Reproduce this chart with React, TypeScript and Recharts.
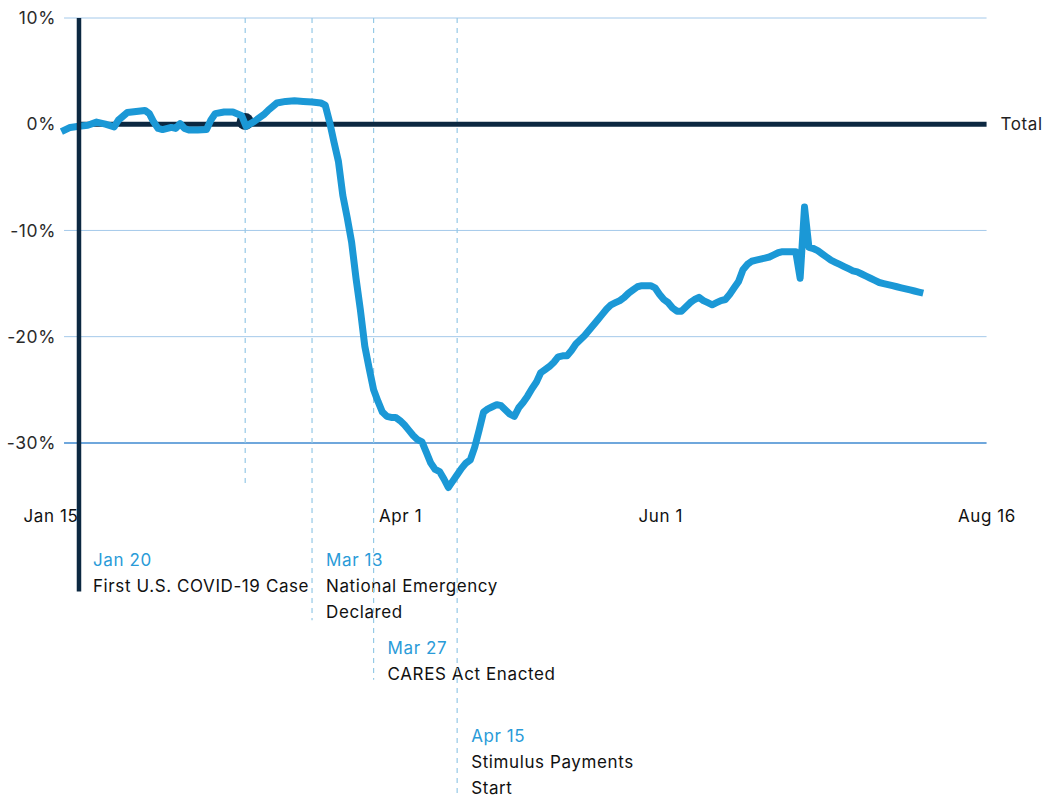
import { LineChart, Line, XAxis, YAxis, ReferenceLine, ReferenceDot } from 'recharts'

// days counted from Jan 15, 2020
const DAYS = [
  1, 3, 5, 7, 9, 11, 13, 14, 16, 18, 20, 21, 22, 23, 24, 26, 27, 28, 29, 30,
  32, 34, 35, 36, 38, 40, 42, 43, 45, 47, 48, 50, 52, 54, 56, 58, 60, 61, 62, 63,
  64, 65, 66, 67, 68, 69, 70, 71, 72, 73, 74, 75, 76, 77, 78, 79, 80, 81, 82, 83,
  84, 85, 86, 87, 88, 89, 90, 91, 92, 93, 94, 95, 96, 97, 98, 99, 100, 101, 102, 103,
  104, 105, 106, 107, 108, 109, 110, 111, 112, 113, 114, 115, 116, 117, 118, 119, 120, 121, 122, 123,
  124, 125, 126, 127, 128, 129, 130, 131, 132, 133, 134, 135, 136, 137, 138, 139, 140, 141, 142, 143,
  144, 145, 146, 147, 148, 149, 150, 151, 152, 153, 154, 155, 156, 157, 158, 159, 160, 161, 162, 163,
  164, 165, 166, 167, 168, 169, 170, 171, 172, 173, 174, 175, 176, 177, 178, 179, 180, 181, 182, 183,
  184, 185, 186, 187, 188, 189, 190, 191, 192, 193, 194, 195, 196, 197,
]
// % change in spending vs. baseline
const CHANGE = [
  -0.7, -0.3, -0.2, -0.1, 0.2, 0.0, -0.25, 0.4, 1.1, 1.2, 1.3, 1.0, 0.2, -0.4, -0.5, -0.3, -0.4, 0.05, -0.4, -0.55,
  -0.55, -0.5, 0.4, 1.0, 1.15, 1.15, 0.8, -0.2, 0.3, 0.9, 1.3, 2.0, 2.15, 2.2, 2.15, 2.1, 2.0, 1.8, 0.2, -1.7,
  -3.5, -6.7, -8.8, -11.1, -14.5, -17.5, -20.9, -23.0, -25.0, -26.1, -27.1, -27.5, -27.6, -27.6, -27.9, -28.3, -28.8, -29.3, -29.7, -29.9,
  -30.9, -31.9, -32.5, -32.7, -33.4, -34.2, -33.6, -33.0, -32.4, -31.9, -31.6, -30.4, -28.8, -27.1, -26.8, -26.6, -26.4, -26.5, -26.9, -27.3,
  -27.5, -26.7, -26.2, -25.6, -24.9, -24.3, -23.4, -23.1, -22.8, -22.4, -21.9, -21.8, -21.8, -21.3, -20.7, -20.3, -19.9, -19.4, -18.9, -18.4,
  -17.9, -17.4, -17.0, -16.8, -16.6, -16.3, -15.9, -15.6, -15.3, -15.2, -15.2, -15.2, -15.4, -16.0, -16.5, -16.8, -17.3, -17.6, -17.6, -17.2,
  -16.8, -16.5, -16.3, -16.6, -16.8, -17.0, -16.8, -16.6, -16.5, -16.0, -15.4, -14.8, -13.7, -13.2, -12.9, -12.8, -12.7, -12.6, -12.5, -12.3,
  -12.1, -12.0, -12.0, -12.0, -12.0, -14.5, -7.8, -11.6, -11.7, -11.9, -12.2, -12.5, -12.8, -13.0, -13.2, -13.4, -13.6, -13.8, -13.9, -14.1,
  -14.3, -14.5, -14.7, -14.9, -15.0, -15.1, -15.2, -15.3, -15.4, -15.5, -15.6, -15.7, -15.8, -15.9,
]

const Y_TICKS = [10, 0, -10, -20, -30]
const X_TICKS = [0, 77, 138, 214]
const X_TICK_LABELS = ['Jan 15', 'Apr 1', 'Jun 1', 'Aug 16']

const EVENT_DAYS = [5, 58, 72, 91]
const EVENT_DATES = ['Jan 20', 'Mar 13', 'Mar 27', 'Apr 15']
const EVENT_TEXT = [
  ['First U.S. COVID-19 Case'],
  ['National Emergency', 'Declared'],
  ['CARES Act Enacted'],
  ['Stimulus Payments', 'Start'],
]
const MARKER_DAY = 42.8 // unlabeled dashed line

const data = DAYS.map((day, i) => ({ day, change: CHANGE[i] }))

const FONT = 'Inter, "Noto Sans", sans-serif'
const NAVY = '#0c2841'
const BLUE = '#1b98d6'
const GRID = '#a4c9ea'
const DASH = '#95c9e6'
const LS = 0.6

// layout bits (not data)
const GRID_FROM = 1.6
const GRID_TO = 211.4
const EVENT_LINE_END = [-44, -46.7, -52.3, -63.6]
const EVENT_TEXT_Y = [566, 566, 654, 742]
const X_TICK_NUDGE = [-6, 5, -3, -11]

const XTick = (props: any) => {
  const { x, y, payload } = props
  const i = X_TICKS.indexOf(payload.value)
  return (
    <text
      x={x + (X_TICK_NUDGE[i] || 0)}
      y={y}
      dy="0.71em"
      textAnchor="middle"
      fill="#111"
      fontSize={17}
      fontFamily={FONT}
      letterSpacing={LS}
    >
      {X_TICK_LABELS[i]}
    </text>
  )
}

const YTick = (props: any) => {
  const { x, y, payload } = props
  return (
    <text x={x} y={y} dy="0.35em" textAnchor="end" fill="#2a2a2a" fontSize={17.5} fontFamily={FONT} letterSpacing={LS}>
      {`${payload.value}%`}
    </text>
  )
}

const eventShape = (i: number) => (p: any) => {
  const { x1, y1, x2, y2 } = p
  const solid = i === 0
  const ty = EVENT_TEXT_Y[i]
  return (
    <g>
      <line
        x1={x1}
        y1={y1}
        x2={x2}
        y2={y2}
        stroke={solid ? NAVY : DASH}
        strokeWidth={solid ? 4.5 : 1.2}
        strokeDasharray={solid ? undefined : '5 5'}
      />
      <text x={x1 + 14} y={ty} fill="#2a9bd8" fontSize={17} fontFamily={FONT} letterSpacing={LS}>
        {EVENT_DATES[i]}
      </text>
      {EVENT_TEXT[i].map((t, j) => (
        <text key={j} x={x1 + 14} y={ty + 26 * (j + 1)} fill="#111" fontSize={17} fontFamily={FONT} letterSpacing={LS}>
          {t}
        </text>
      ))}
    </g>
  )
}

const zeroShape = (p: any) => {
  const { x1, y1, x2, y2 } = p
  return (
    <g>
      <line x1={x1} y1={y1} x2={x2} y2={y2} stroke={NAVY} strokeWidth={5} />
      <text x={x2 + 14} y={y2} dy="0.35em" fill="#222" fontSize={17} fontFamily={FONT} letterSpacing={LS}>
        Total
      </text>
    </g>
  )
}

export default function App() {
  return (
    <div style={{ position: 'absolute', left: 0, top: 0, width: 1051, height: 797, background: '#fff' }}>
      <LineChart width={1051} height={797} data={data} margin={{ top: 18, right: 53, bottom: 241, left: 0 }}>
        <XAxis
          type="number"
          dataKey="day"
          domain={[0, 214]}
          ticks={X_TICKS}
          interval={0}
          height={60}
          tickSize={0}
          tickMargin={14}
          axisLine={false}
          tickLine={false}
          tick={<XTick />}
        />
        <YAxis
          type="number"
          domain={[-35, 10]}
          ticks={Y_TICKS}
          interval={0}
          width={57}
          tickSize={0}
          tickMargin={1}
          axisLine={false}
          tickLine={false}
          tick={<YTick />}
        />
        {Y_TICKS.filter((v) => v !== 0).map((v) => (
          <ReferenceLine
            key={v}
            segment={[{ x: GRID_FROM, y: v }, { x: GRID_TO, y: v }]}
            stroke={v === -30 ? '#6fa7dc' : GRID}
            strokeWidth={v === -30 ? 2 : 1}
            ifOverflow="visible"
          />
        ))}
        <ReferenceLine
          segment={[{ x: MARKER_DAY, y: 10 }, { x: MARKER_DAY, y: -34.2 }]}
          stroke={DASH}
          strokeWidth={1.2}
          strokeDasharray="5 5"
          ifOverflow="visible"
        />
        {EVENT_DAYS.slice(1).map((d, k) => (
          <ReferenceLine
            key={d}
            segment={[{ x: d, y: 10 }, { x: d, y: EVENT_LINE_END[k + 1] }]}
            ifOverflow="visible"
            shape={eventShape(k + 1)}
          />
        ))}
        <ReferenceLine segment={[{ x: EVENT_DAYS[0], y: 0 }, { x: GRID_TO, y: 0 }]} ifOverflow="visible" shape={zeroShape} />
        <ReferenceDot x={MARKER_DAY} y={0.25} r={8.5} fill={NAVY} stroke="none" ifOverflow="visible" zIndex={350} />
        <Line
          type="linear"
          dataKey="change"
          stroke={BLUE}
          strokeWidth={7}
          strokeLinejoin="round"
          strokeLinecap="butt"
          dot={false}
          activeDot={false}
          isAnimationActive={false}
        />
        <ReferenceLine
          segment={[{ x: EVENT_DAYS[0], y: 10 }, { x: EVENT_DAYS[0], y: EVENT_LINE_END[0] }]}
          ifOverflow="visible"
          shape={eventShape(0)}
        />
      </LineChart>
    </div>
  )
}
